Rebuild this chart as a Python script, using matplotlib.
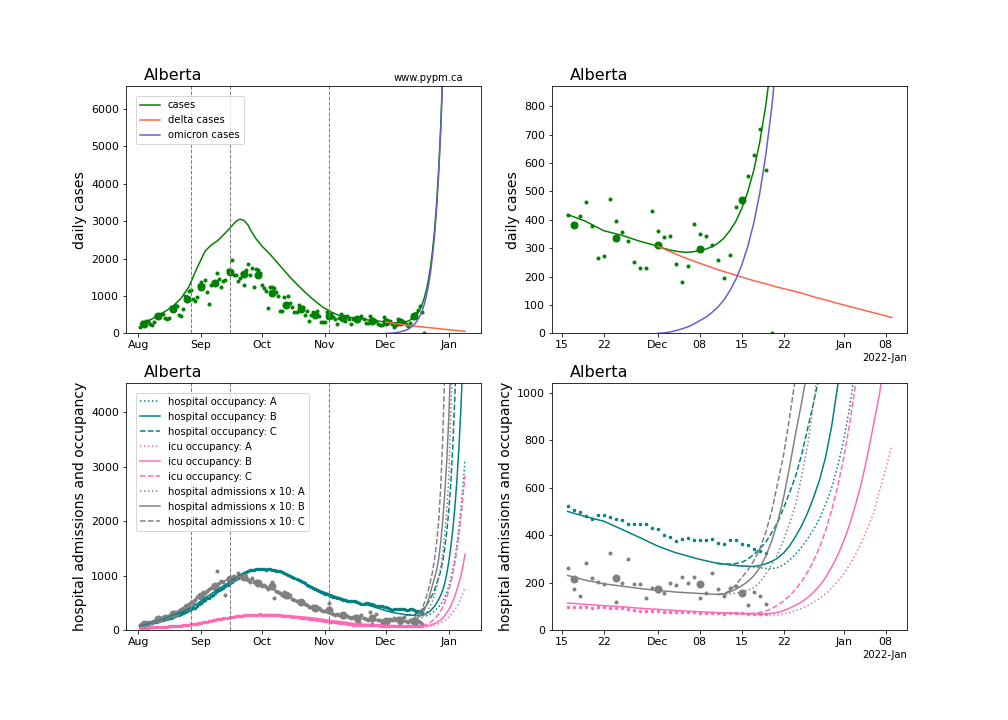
import numpy as np
import pandas as pd
import matplotlib
matplotlib.use('Agg')
import matplotlib.pyplot as plt
import matplotlib.dates as mdates

# ---------------- data ----------------
region = 'Alberta'
case_start = '2021-08-02'
cases_daily = [170, 300, 290, 330, 340, 250, 230,
               300, 480, 470, 520, 510, 400, 390,
               420, 700, 650, 760, 740, 500, 470,
               640, 1000, 980, 1120, 1170, 930, 860,
               980, 1300, 1370, 1280, 1430, 1100, 790,
               1280, 1370, 1330, 1610, 1460, 1250, 1400,
               1430, 1700, 1620, 1960, 1570, 1570, 1410,
               1480, 1620, 1300, 1680, 1860, 1560, 1750,
               1235, 1720, 1690, 1610, 1280, 1200, 1130,
               685, 1240, 1250, 1210, 1100, 1010, 610,
               590, 980, 760, 1000, 800, 700, 580,
               570, 770, 640, 700, 480, 610, 320,
               480, 560, 520, 590, 460, 300, 300,
               300, 560, 470, 520, 440, 380, 245,
               404, 520, 430, 325, 470, 380, 245,
               378,
               416, 385, 415, 464, 378, 267,
               272, 472, 395, 359, 324, 250, 229,
               229, 433, 362, 341, 345, 243, 183,
               237, 384, 352, 345, 313, 260, 197,
               278, 447, 470, 555, 630, 721, 577,
               0]
weekly_start = '2021-08-04'
cases_weekly = [260, 455, 660, 925, 1235, 1340, 1630, 1590, 1550, 1090,
                755, 650, 480, 455, 400, 381, 335, 313, 296, 471]

cases_model_dates = ['2021-08-02', '2021-08-06', '2021-08-10', '2021-08-14', '2021-08-18',
                     '2021-08-22', '2021-08-26', '2021-08-30', '2021-09-03', '2021-09-06',
                     '2021-09-09', '2021-09-12', '2021-09-15', '2021-09-18', '2021-09-20',
                     '2021-09-22', '2021-09-24', '2021-09-26', '2021-09-28', '2021-10-01',
                     '2021-10-05', '2021-10-10', '2021-10-15', '2021-10-19', '2021-10-23',
                     '2021-10-27', '2021-10-31', '2021-11-04', '2021-11-08', '2021-11-12',
                     '2021-11-16', '2021-11-19', '2021-11-22', '2021-11-25', '2021-11-28']
cases_model_hist = [250, 340, 450, 580, 720, 930, 1250, 1750, 2200, 2360,
                    2470, 2630, 2800, 2980, 3050, 3020, 2900, 2700, 2530, 2330,
                    2110, 1800, 1490, 1270, 1060, 870, 700, 575, 480, 435,
                    419, 395, 362, 346, 325]
dec_start = '2021-12-01'
cases_model_dec = [308, 300, 294, 290, 287, 286, 288, 292, 297, 305,
                   317, 335, 361, 394, 439, 498, 573, 672, 800, 962,
                   1171, 1438, 1778, 2211, 2764, 3466, 4358, 5494, 6938, 8773]
omicron_cases = [0.5, 2, 5, 10, 16, 23, 33, 45, 57, 73,
                 92, 117, 149, 189, 240, 305, 387, 492, 625, 793,
                 1008, 1280, 1625, 2064, 2622, 3330, 4229, 5370, 6820, 8661]
delta_dates = ['2021-12-01', '2021-12-03', '2021-12-05', '2021-12-07', '2021-12-09',
               '2021-12-11', '2021-12-13', '2021-12-15', '2021-12-17', '2021-12-19',
               '2021-12-21', '2021-12-23', '2021-12-25', '2021-12-27', '2021-12-29',
               '2021-12-31', '2022-01-02', '2022-01-04', '2022-01-06', '2022-01-08',
               '2022-01-09']
delta_cases = [307, 289, 271, 255, 240, 225, 212, 199, 186, 175,
               163, 153, 142, 129, 118, 106, 95, 84, 73, 62, 56]

change_dates = ['2021-08-27', '2021-09-15', '2021-11-03']

# hospital data (daily from Aug 2)
hosp_daily = [85, 92, 100, 108, 118, 122, 128,
              140, 150, 162, 175, 185, 195, 200,
              212, 225, 240, 255, 270, 280, 288,
              305, 325, 345, 365, 385, 400, 410,
              440, 470, 500, 530, 560, 580, 595,
              620, 650, 680, 710, 740, 760, 775,
              800, 830, 860, 890, 920, 940, 955,
              980, 1010, 1040, 1065, 1085, 1095, 1100,
              1110, 1115, 1120, 1125, 1120, 1115, 1110,
              1120, 1115, 1105, 1100, 1090, 1080, 1075,
              1060, 1045, 1025, 1010, 990, 970, 955,
              935, 915, 895, 875, 855, 835, 815,
              790, 770, 750, 730, 710, 695, 680,
              670, 660, 645, 630, 615, 600, 590,
              580, 570, 560, 550, 540, 535, 530,
              528,
              525, 508, 497, 480, 469, 487, 487, 476, 469, 465, 447, 445, 449, 445, 431,
              428, 402, 393, 376, 385, 390, 379, 379, 381, 385, 368, 361, 378, 378, 361,
              357, 340, 333, 326]
icu_daily = [38, 40, 41, 43, 45, 46, 48,
             50, 52, 54, 56, 58, 60, 62,
             65, 67, 70, 73, 76, 79, 82,
             86, 90, 94, 98, 103, 108, 112,
             118, 125, 132, 140, 148, 155, 162,
             170, 178, 186, 194, 200, 206, 212,
             218, 225, 232, 240, 246, 252, 258,
             262, 266, 270, 273, 276, 278, 280,
             282, 283, 284, 285, 284, 283, 282,
             280, 278, 276, 274, 272, 270, 267,
             264, 261, 258, 254, 250, 246, 242,
             238, 233, 228, 223, 218, 213, 208,
             203, 198, 193, 188, 183, 178, 173,
             168, 163, 158, 153, 148, 143, 139,
             135, 130, 125, 120, 115, 110, 105,
             100,
             98, 96, 95, 95, 94, 96, 95, 93, 94, 91, 90, 85, 82, 82, 80,
             79, 78, 77, 75, 74, 75, 74, 72, 71, 70, 70, 69, 70, 71, 70,
             68, 66, 66, 68]
adm_daily = [95, 110, 120, 125, 140, 135, 150,
             165, 180, 200, 190, 230, 250, 215,
             260, 290, 280, 330, 300, 350, 380,
             390, 430, 410, 480, 520, 500, 560,
             600, 640, 610, 700, 680, 720, 760,
             780, 820, 760, 1080, 860, 900, 880,
             635, 940, 900, 980, 1000, 950, 1040,
             1000, 960, 990, 940, 920, 890, 960,
             880, 900, 850, 860, 800, 820, 790,
             760, 790, 880, 593, 720, 700, 680,
             650, 690, 620, 600, 640, 570, 560,
             540, 520, 510, 490, 470, 460, 430,
             420, 440, 400, 380, 410, 360, 350,
             340, 360, 488, 320, 300, 280, 290,
             270, 300, 240, 250, 260, 230, 220,
             230,
             263, 171, 143, 281, 218, 204, 192, 323, 118, 199, 300, 192, 192, 133, 178,
             164, 154, 199, 190, 223, 199, 223, 133, 157, 242, 171, 143, 178, 185, 162,
             105, 162, 143, 111]
adm_weekly = [115, 195, 290, 420, 620, 800, 930, 980, 870, 800,
              640, 520, 410, 360, 270, 213, 218, 174, 192, 157]

hist_dates = ['2021-08-02', '2021-08-06', '2021-08-10', '2021-08-14', '2021-08-18',
              '2021-08-22', '2021-08-26', '2021-08-30', '2021-09-03', '2021-09-07',
              '2021-09-11', '2021-09-15', '2021-09-19', '2021-09-23', '2021-09-27',
              '2021-10-01', '2021-10-05', '2021-10-09', '2021-10-13', '2021-10-17',
              '2021-10-21', '2021-10-25', '2021-10-29', '2021-11-02', '2021-11-06',
              '2021-11-10', '2021-11-13', '2021-11-16', '2021-11-19', '2021-11-22',
              '2021-11-25', '2021-11-28', '2021-12-01', '2021-12-04', '2021-12-08',
              '2021-12-11']
hosp_model_hist = [80, 120, 175, 225, 275, 325, 385, 480, 590, 690,
                   790, 880, 990, 1070, 1110, 1120, 1115, 1090, 1020, 950,
                   875, 800, 730, 675, 615, 570, 532, 500, 478, 459,
                   425, 390, 354, 326, 298, 281]
icu_model_hist = [35, 40, 48, 58, 68, 82, 98, 120, 145, 170,
                  195, 220, 245, 265, 278, 284, 283, 276, 266, 254,
                  240, 225, 205, 185, 165, 148, 132, 114, 108, 103,
                  98, 92, 87, 82, 77, 73]
adm_model_hist = [100, 140, 185, 240, 300, 380, 480, 590, 700, 800,
                  880, 945, 985, 960, 900, 835, 770, 700, 630, 560,
                  490, 425, 375, 330, 290, 258, 242, 230, 210, 195,
                  185, 175, 167, 160, 154, 150]

# scenario projections, daily from Dec 11 to Jan 9
proj_start = '2021-12-11'
hosp_A = [281, 278, 275, 272, 270, 268, 266, 263, 260, 259, 263, 275, 295, 320, 350,
          385, 425, 470, 530, 600, 690, 800, 940, 1110, 1320, 1570, 1870, 2220, 2640, 3130]
hosp_B = [281, 278, 275, 272, 270, 269, 268, 272, 279, 289, 303, 325, 355, 395, 440,
          495, 560, 635, 730, 860, 1030, 1250, 1520, 1850, 2250, 2750, 3350, 4100, 5000, 6100]
hosp_C = [281, 279, 278, 280, 285, 298, 318, 342, 370, 410, 455, 515, 580, 650, 740,
          850, 960, 1080, 1260, 1500, 1800, 2200, 2700, 3400, 4300, 5400, 6800, 8500, 10600, 13200]
icu_A = [73, 72, 71, 70, 69, 68, 68, 66, 64, 63, 64, 68, 74, 82, 91,
         103, 117, 133, 153, 177, 205, 237, 275, 320, 372, 430, 493, 590, 680, 775]
icu_B = [73, 72, 71, 70, 69, 69, 69, 68, 68, 70, 74, 82, 92, 105, 118,
         137, 160, 187, 222, 265, 315, 375, 445, 530, 625, 740, 870, 1000, 1180, 1392]
icu_C = [73, 72, 71, 70, 69, 69, 70, 74, 80, 90, 105, 122, 145, 172, 205,
         245, 293, 350, 420, 505, 605, 725, 870, 1040, 1240, 1480, 1760, 2090, 2460, 2830]
adm_A = [150, 150, 152, 155, 160, 168, 178, 200, 235, 275, 320, 380, 450, 530, 650,
         780, 960, 1150, 1400, 1750, 2200, 2800, 4000, 5200, 6700, 8600, 11000, 14000, 18000, 23000]
adm_B = [150, 152, 160, 172, 186, 204, 228, 262, 310, 375, 455, 560, 690, 830, 960,
         1100, 1300, 1600, 2000, 2500, 3100, 3900, 4900, 6200, 7800, 9800, 12300, 15500, 19500, 24500]
adm_C = [150, 153, 165, 190, 220, 252, 291, 340, 410, 500, 620, 740, 900, 1070, 1300,
         1600, 1990, 2600, 3500, 4700, 6000, 7600, 9600, 12200, 15500, 19700, 25000, 31700, 40300, 51200]

# ---------------- plotting ----------------
plt.rcParams['font.family'] = ['DejaVu Sans']
fig, axs = plt.subplots(2, 2, figsize=(14, 10), dpi=72)
fig.subplots_adjust(left=0.125, right=0.9, bottom=0.125, top=0.88, wspace=0.2, hspace=0.2)

d_daily = pd.date_range(case_start, periods=len(cases_daily))
d_weekly = pd.date_range(weekly_start, periods=len(cases_weekly), freq='7D')
d_cm = pd.to_datetime(cases_model_dates).append(pd.date_range(dec_start, periods=len(cases_model_dec)))
v_cm = np.array(cases_model_hist + cases_model_dec, dtype=float)
d_om = pd.date_range(dec_start, periods=len(omicron_cases))
d_de = pd.to_datetime(delta_dates)
d_hd = pd.date_range(case_start, periods=len(hosp_daily))
d_hist = pd.to_datetime(hist_dates)
d_proj = pd.date_range(proj_start, periods=len(hosp_A))
d_vl = pd.to_datetime(change_dates)

cut = pd.Timestamp('2021-11-16')


def sel(d, v, zoom):
    v = np.asarray(v, dtype=float)
    if not zoom:
        return d, v
    m = d >= cut
    return d[m], v[m]


for col in range(2):
    zoom = col == 1
    ax = axs[0, col]
    ax.plot(*sel(d_daily, cases_daily, zoom), 'o', color='green', ms=3, lw=0)
    ax.plot(*sel(d_weekly, cases_weekly, zoom), 'o', color='green', ms=7, lw=0)
    ax.plot(*sel(d_cm, v_cm, zoom), color='green', lw=1.5, label='cases')
    ax.plot(d_de, delta_cases, color='tomato', lw=1.5, label='delta cases')
    ax.plot(d_om, omicron_cases, color='slateblue', lw=1.5, label='omicron cases')
    ax.set_ylabel('daily cases', fontsize=14)

    ax = axs[1, col]
    ax.plot(*sel(d_hd, hosp_daily, zoom), 'o', color='teal', ms=2.5, lw=0)
    ax.plot(*sel(d_hd, icu_daily, zoom), 'o', color='hotpink', ms=2.5, lw=0)
    ax.plot(*sel(d_hd, adm_daily, zoom), 'o', color='grey', ms=3, lw=0)
    ax.plot(*sel(d_weekly, adm_weekly, zoom), 'o', color='grey', ms=7, lw=0)
    for hist, proj, color, name in [
            (hosp_model_hist, (hosp_A, hosp_B, hosp_C), 'teal', 'hospital occupancy'),
            (icu_model_hist, (icu_A, icu_B, icu_C), 'hotpink', 'icu occupancy'),
            (adm_model_hist, (adm_A, adm_B, adm_C), 'grey', 'hospital admissions x 10')]:
        ax.plot(*sel(d_hist, hist, zoom), color=color, lw=1.5)
        for vals, ls, sc in zip(proj, [':', '-', '--'], 'ABC'):
            ax.plot(d_proj, vals, color=color, ls=ls, lw=1.5, label=f'{name}: {sc}')
    ax.set_ylabel('hospital admissions and occupancy', fontsize=14)

for ax in axs.flat:
    ax.text(0.05, 1.024, region, transform=ax.transAxes, fontsize=16)
    ax.tick_params(labelsize=11)

for ax in axs[:, 0]:
    for d in d_vl:
        ax.axvline(d, color='grey', ls='--', lw=1)
    ax.set_xlim(pd.Timestamp('2021-07-26'), pd.Timestamp('2022-01-16 22:00'))
    ax.xaxis.set_major_locator(mdates.MonthLocator())
    ax.xaxis.set_major_formatter(mdates.DateFormatter('%b'))

for ax in axs[:, 1]:
    ax.set_xlim(pd.Timestamp('2021-11-13 10:00'), pd.Timestamp('2022-01-11 14:00'))
    loc = mdates.DayLocator(bymonthday=[1, 8, 15, 22])
    ax.xaxis.set_major_locator(loc)
    ax.xaxis.set_major_formatter(mdates.ConciseDateFormatter(loc))

axs[0, 0].set_ylim(0, 6590)
axs[0, 1].set_ylim(0, 870)
axs[1, 0].set_ylim(0, 4540)
axs[1, 1].set_ylim(0, 1042)

axs[0, 0].text(0.95, 1.02, 'www.pypm.ca', transform=axs[0, 0].transAxes,
               ha='right', fontsize=10)
axs[0, 0].legend(loc='upper left', fontsize=10, borderaxespad=1.0)
axs[1, 0].legend(loc='upper left', fontsize=10, borderaxespad=1.0)

fig.savefig('out.png', dpi=72)
